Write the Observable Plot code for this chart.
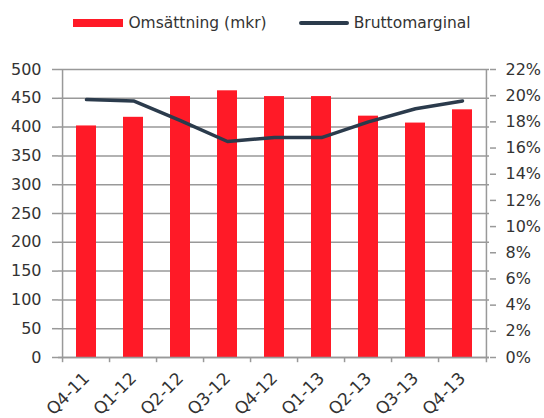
<!DOCTYPE html>
<html><head><meta charset="utf-8">
<script src="https://cdn.jsdelivr.net/npm/d3@7"></script>
<script src="https://cdn.jsdelivr.net/npm/@observablehq/plot@0.6"></script>
<style>
body{margin:0;background:#fff;font-family:"DejaVu Sans",sans-serif;color:#333;}
#legend{height:45px;display:flex;align-items:center;justify-content:center;font-size:15.5px;padding-left:0;box-sizing:border-box;}
.item{display:flex;align-items:center;}
.sw1{width:50px;height:8px;background:#FF1A27;margin-right:5px;}
.sw2{width:50px;height:4px;border-radius:2px;background:#2B3B4C;margin-right:5px;}
</style></head>
<body>
<div id="legend">
 <div class="item"><div class="sw1"></div><span>Omsättning (mkr)</span></div>
 <div class="item" style="margin-left:32px"><div class="sw2"></div><span>Bruttomarginal</span></div>
</div>
<div id="chart"></div>
<script>
const categories = ["Q4-11","Q1-12","Q2-12","Q3-12","Q4-12","Q1-13","Q2-13","Q3-13","Q4-13"];
const revenue = [402,417,453,463,453,453,419,407,430];
const grossMargin = [19.7,19.6,18.1,16.5,16.8,16.8,18.0,19.0,19.6];
const leftTicks = [0,50,100,150,200,250,300,350,400,450,500];
const rightTicks = [0,2,4,6,8,10,12,14,16,18,20,22];

const W = 544, H = 373, mL = 58, mR = 55, mT = 24, mB = 61;
const scaleR = 500/22;
const step = (W - mL - mR) / categories.length;
const data = categories.map((c,i)=>({c, rev: revenue[i], gm: grossMargin[i]}));
const gray = "#999";

const plot = Plot.plot({
  width: W, height: H,
  marginLeft: mL, marginRight: mR, marginTop: mT, marginBottom: mB,
  style: {fontFamily: '"DejaVu Sans",sans-serif', fontSize: "16px", color: "#333", background: "#fff"},
  x: {type: "band", domain: categories, paddingInner: 0.58, paddingOuter: 0.29, label: null},
  y: {domain: [0, 500], label: null},
  marks: [
    Plot.ruleY(leftTicks, {stroke: gray, strokeWidth: 1.5}),
    Plot.barY(data, {x: "c", y: "rev", fill: "#FF1A27"}),
    Plot.line(data, {x: "c", y: d => d.gm * scaleR, stroke: "#2B3B4C", strokeWidth: 3.5, strokeLinejoin: "round", strokeLinecap: "round"}),
    Plot.axisY(leftTicks, {anchor: "left", tickSize: 6, tickPadding: 11, stroke: gray, strokeWidth: 1.5, label: null}),
    Plot.axisY(rightTicks.map(p => p * scaleR), {anchor: "right", tickSize: 6, tickPadding: 10, stroke: gray, strokeWidth: 1.5, tickFormat: v => Math.round(v / scaleR) + "%", label: null}),
    Plot.ruleX([categories[0]], {x: d => d, dx: -step/2, y1: 0, y2: 500, stroke: gray, strokeWidth: 1.5}),
    Plot.ruleX(categories, {x: d => d, dx: -step/2, y1: 0, y2: -9, stroke: gray, strokeWidth: 1.5}),
    Plot.ruleX([categories[categories.length-1]], {x: d => d, dx: step/2, y1: -9, y2: 500, stroke: gray, strokeWidth: 1.5}),
    Plot.ruleY([0], {stroke: gray, strokeWidth: 1.5}),
    Plot.axisX({tickSize: 0, tickPadding: 18, tickRotate: -45, fontSize: 17, label: null})
  ]
});
document.getElementById("chart").appendChild(plot);
</script>
</body></html>
